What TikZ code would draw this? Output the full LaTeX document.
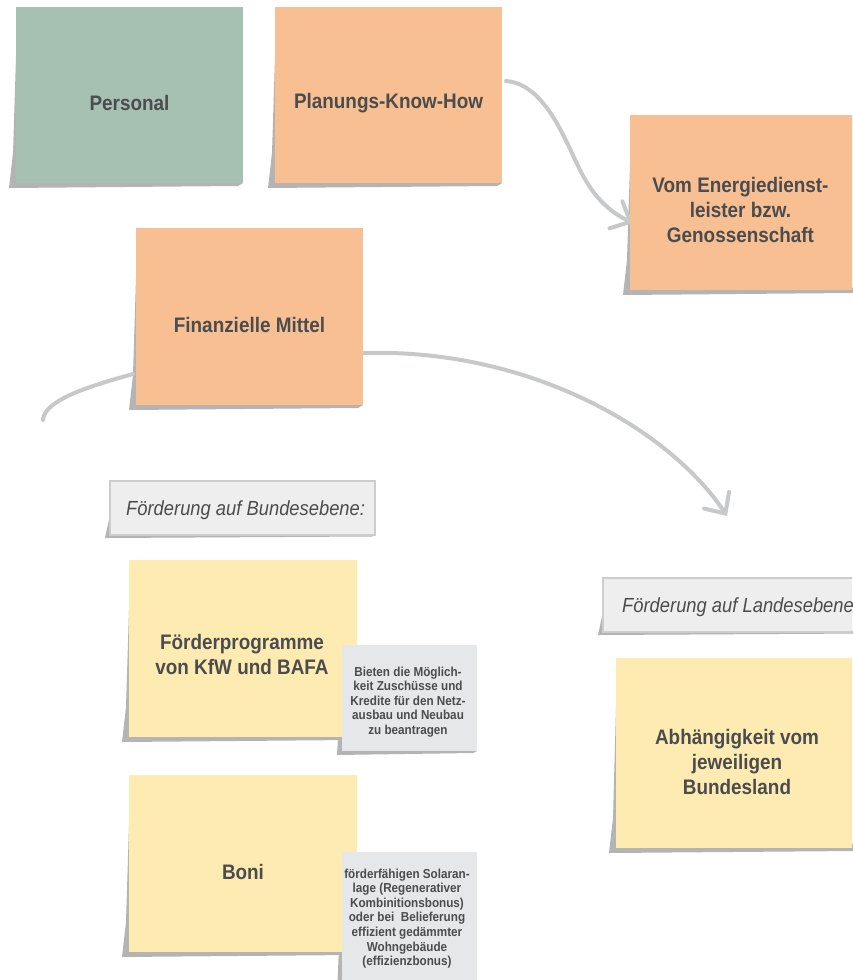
\documentclass[tikz,border=0pt]{standalone}
\usepackage{fontspec}
\setmainfont{Liberation Sans}[FakeStretch=0.9]
\usetikzlibrary{arrows.meta,backgrounds}
\definecolor{greenc}{HTML}{A6C1B1}
\definecolor{orangec}{HTML}{F7BF92}
\definecolor{yellowc}{HTML}{FDEBB2}
\definecolor{smallgray}{HTML}{E6E7E9}
\definecolor{labelgray}{HTML}{EEEEEE}
\definecolor{labelborder}{HTML}{CDCDCD}
\definecolor{shadc}{HTML}{B4B4B4}
\definecolor{arrc}{HTML}{C7C8CA}
\definecolor{txtc}{HTML}{4B4C4E}
\begin{document}
\begin{tikzpicture}[x=1pt,y=-1pt,
  note/.style={rectangle, inner sep=0pt, outer sep=0pt, draw=none},
  bigtxt/.style={text=txtc, font=\fontsize{21}{25}\selectfont\bfseries, align=center, inner sep=0pt},
  smalltxt/.style={text=txtc, font=\fontsize{13}{14.6}\selectfont\bfseries, align=center, inner sep=0pt},
  headtxt/.style={text=txtc, font=\fontsize{20.4}{24}\selectfont\itshape, anchor=west, inner sep=0pt},
  labelbox/.style={rectangle, inner sep=0pt, outer sep=0pt, fill=labelgray, draw=labelborder, line width=1.2pt},
  conn/.style={draw=arrc, line width=4pt, line cap=round},
  tipd/.style={-{Straight Barb[length=16pt,width=30pt,line cap=round]}}
]
\useasboundingbox (0,0) rectangle (852,980);
\clip (0,0) rectangle (852,980);

% sticky notes
\node[note, fill=greenc, minimum width=227pt, minimum height=176pt] (pers) at (129.5,95) {};
\node[note, fill=orangec, minimum width=227pt, minimum height=176pt] (plan) at (388.5,95) {};
\node[note, fill=orangec, minimum width=227pt, minimum height=175pt] (vom) at (743.5,202.5) {};
\node[note, fill=orangec, minimum width=227pt, minimum height=177pt] (fin) at (249.5,316.5) {};
\node[note, fill=yellowc, minimum width=228pt, minimum height=177pt] (fp) at (243,648.5) {};
\node[note, fill=yellowc, minimum width=228pt, minimum height=177pt] (boni) at (243,863.5) {};
\node[note, fill=yellowc, minimum width=244pt, minimum height=190pt] (abh) at (738,753) {};

% small grey notes
\node[note, fill=smallgray, minimum width=135pt, minimum height=106pt] (fpnote) at (409.5,698) {};
\node[note, fill=smallgray, minimum width=135pt, minimum height=140pt] (boninote) at (409.5,922) {};

% heading boxes
\node[labelbox, minimum width=265pt, minimum height=54pt] (bund) at (242.5,508) {};
\node[labelbox, minimum width=267pt, minimum height=54pt] (land) at (736.5,605) {};

% texts
\node[bigtxt] at ([yshift=-8pt]pers.center) {Personal};
\node[bigtxt] at ([yshift=-8pt]plan.center) {Planungs-Know-How};
\node[bigtxt] at ([xshift=-3pt,yshift=-7.5pt]vom.center) {Vom Energiedienst-\\leister bzw.\\Genossenschaft};
\node[bigtxt] at ([yshift=-8.5pt]fin.center) {Finanzielle Mittel};
\node[bigtxt] at ([xshift=-1pt,yshift=-6pt]fp.center) {Förderprogramme\\von KfW und BAFA};
\node[bigtxt] at ([yshift=-8.5pt]boni.center) {Boni};
\node[bigtxt] at ([xshift=-1pt,yshift=-9pt]abh.center) {Abhängigkeit vom\\jeweiligen\\Bundesland};
\node[smalltxt] at ([xshift=-1.5pt,yshift=-4pt]fpnote.center) {Bieten die Möglich-\\keit Zuschüsse und\\Kredite für den Netz-\\ausbau und Neubau\\zu beantragen};
\node[smalltxt] at ([xshift=-2.5pt,yshift=-66.5pt]boninote.north) {förderfähigen Solaran-\\lage (Regenerativer\\Kombinitionsbonus)\\oder bei\ \ Belieferung\\effizient gedämmter\\Wohngebäude\\(effizienzbonus)};
\node[headtxt] at ([xshift=16pt,yshift=-2pt]bund.west) {Förderung auf Bundesebene:};
\node[headtxt] at ([xshift=19pt,yshift=-2pt]land.west) {Förderung auf Landesebene:};

\coordinate (landtip) at (727,516);
\coordinate (arcend) at (43,420);

\begin{scope}[on background layer]
  \fill[white] (0,0) rectangle (852,980);
  % shadows of notes
  \foreach \n in {pers,plan,vom,fin,fp,boni,abh}{
    \fill[shadc] ([yshift=-50pt]\n.north west) -- ([xshift=-3pt,yshift=30pt]\n.south west)
      -- ([xshift=-7pt,yshift=-5pt]\n.south west)
      -- ([xshift=-5pt,yshift=-3pt]\n.south east) -- (\n.south east) -- cycle;
  }
  \foreach \n in {fpnote,boninote}{
    \fill[shadc] ([yshift=-20pt]\n.north west) -- ([xshift=-5pt,yshift=-4pt]\n.south west)
      -- ([xshift=-4pt,yshift=-2pt]\n.south east) -- (\n.south east) -- cycle;
  }
  \foreach \n in {bund,land}{
    \fill[shadc] ([yshift=20pt]\n.south west) -- ([xshift=-5pt,yshift=-3pt]\n.south west)
      -- ([xshift=-3pt,yshift=-1.5pt]\n.south east) -- (\n.south east) -- cycle;
  }
  % connectors
  \draw[conn, tipd] ([xshift=4pt,yshift=14pt]plan.east)
     .. controls (545,84) and (565,140) .. (580,170)
     .. controls (595,200) and (612,213) .. ([xshift=3pt,yshift=-20.5pt]vom.west);
  \draw[conn, tipd] ([yshift=-36.5pt]fin.east)
     .. controls (530,348) and (670,430) .. (landtip);
  \draw[conn] ([xshift=-3pt,yshift=-57.5pt]fin.west)
     .. controls (90,386) and (44,400) .. (arcend);
\end{scope}
\end{tikzpicture}
\end{document}
